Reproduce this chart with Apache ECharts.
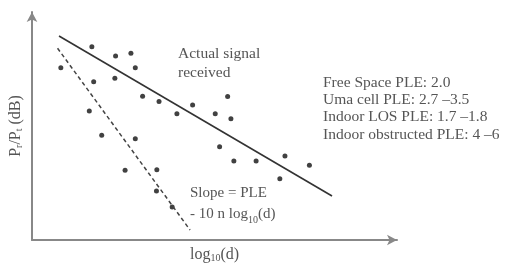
<!DOCTYPE html>
<html>
<head>
<meta charset="utf-8">
<style>
  html, body { margin: 0; padding: 0; background: #fff; }
  #chart { width: 506px; height: 266px; }
</style>
<script src="https://cdn.jsdelivr.net/npm/echarts@6/dist/echarts.min.js"></script>
</head>
<body>
<div id="chart"></div>
<script>
// measured samples (x = log10(d), y = received power, arbitrary units)
var samplesX = [1.64, 0.79, 2.29, 2.71, 2.83, 2.27, 1.69, 3.03, 3.48, 1.57, 3.97, 4.40, 5.02, 5.36,
  5.45, 1.91, 2.83, 5.14, 5.53, 6.14, 6.93, 7.60, 6.79, 2.55, 3.42, 3.41, 3.84]
var samplesY = [8.48, 7.56, 8.07, 8.19, 7.56, 7.09, 6.94, 6.30, 6.08, 5.66, 5.54, 5.92, 5.54, 6.29,
  5.32, 4.59, 4.44, 4.09, 3.46, 3.46, 3.68, 3.28, 2.69, 3.06, 3.08, 2.15, 1.45]
// fitted line through actual signal
var fitX = [0.74, 8.22]
var fitY = [8.95, 1.93]
// slope line (- 10 n log10(d))
var slopeX = [0.70, 4.33]
var slopeY = [8.41, 0.44]
var pleNotes = [
  'Free Space PLE: 2.0',
  'Uma cell PLE: 2.7 \u20133.5',
  'Indoor LOS PLE: 1.7 \u20131.8',
  'Indoor obstructed PLE: 4 \u20136'
]

function pairs(xs, ys) {
  return xs.map(function(x, i) { return [x, ys[i]] })
}

var serif = 'Liberation Serif'
var textColor = '#555'

var myChart = echarts.init(document.getElementById('chart'))
var option = {
  animation: false,
  grid: { left: 32, top: 12, right: 109, bottom: 26, containLabel: false, outerBoundsMode: 'none' },
  textStyle: { fontFamily: serif },
  xAxis: {
    type: 'value',
    min: 0,
    max: 10,
    name: '{t|log}{s|10}{t|(d)}',
    nameLocation: 'middle',
    nameGap: 6,
    nameTextStyle: {
      rich: {
        t: { fontFamily: serif, fontSize: 16, color: textColor },
        s: { fontFamily: serif, fontSize: 10, color: textColor, verticalAlign: 'bottom', padding: [7, 0, 0, 0] }
      }
    },
    axisLine: {
      // 箭头
      symbol: ['none', 'arrow'],
      symbolSize: [8, 10],
      lineStyle: { color: '#888', width: 2 }
    },
    axisTick: { show: false },
    axisLabel: { show: false },
    splitLine: { show: false }
  },
  yAxis: {
    type: 'value',
    min: 0,
    max: 10,
    name: '{t|P}{s|r}{t|/P}{s|t}{t| (dB)}',
    nameLocation: 'middle',
    nameGap: 8,
    nameRotate: 90,
    nameTextStyle: {
      rich: {
        t: { fontFamily: serif, fontSize: 16, color: textColor },
        s: { fontFamily: serif, fontSize: 10, color: textColor, verticalAlign: 'bottom', padding: [7, 0, 0, 0] }
      }
    },
    axisLine: {
      symbol: ['none', 'arrow'],
      symbolSize: [8, 10],
      lineStyle: { color: '#888', width: 2 }
    },
    axisTick: { show: false },
    axisLabel: { show: false },
    splitLine: { show: false }
  },
  series: [
    {
      type: 'line',
      data: pairs(fitX, fitY),
      showSymbol: false,
      lineStyle: { color: '#333', width: 1.6 }
    },
    {
      type: 'line',
      data: pairs(slopeX, slopeY),
      showSymbol: false,
      lineStyle: { color: '#444', width: 1.5, type: [4, 3] }
    },
    {
      type: 'scatter',
      data: pairs(samplesX, samplesY),
      symbolSize: 5,
      itemStyle: { color: '#111' }
    }
  ],
  graphic: [
    {
      type: 'text',
      left: 178,
      top: 44,
      style: {
        text: 'Actual signal\nreceived',
        font: '15.5px "Liberation Serif"',
        fill: textColor,
        lineHeight: 19
      }
    },
    {
      type: 'text',
      left: 323,
      top: 74,
      style: {
        text: pleNotes.join('\n'),
        font: '15.5px "Liberation Serif"',
        fill: textColor,
        lineHeight: 17.3
      }
    },
    {
      type: 'text',
      left: 190,
      top: 186,
      style: {
        text: '{t|Slope = PLE}\n{t|- 10 n log}{s|10}{t|(d)}',
        fill: textColor,
        rich: {
          t: { fontFamily: serif, fontSize: 15, fill: textColor, lineHeight: 21 },
          s: { fontFamily: serif, fontSize: 10, fill: textColor, verticalAlign: 'bottom', padding: [8, 0, 0, 0] }
        }
      }
    }
  ]
}
myChart.setOption(option)
window.addEventListener('resize', function() {
  myChart.resize()
})
</script>
</body>
</html>
